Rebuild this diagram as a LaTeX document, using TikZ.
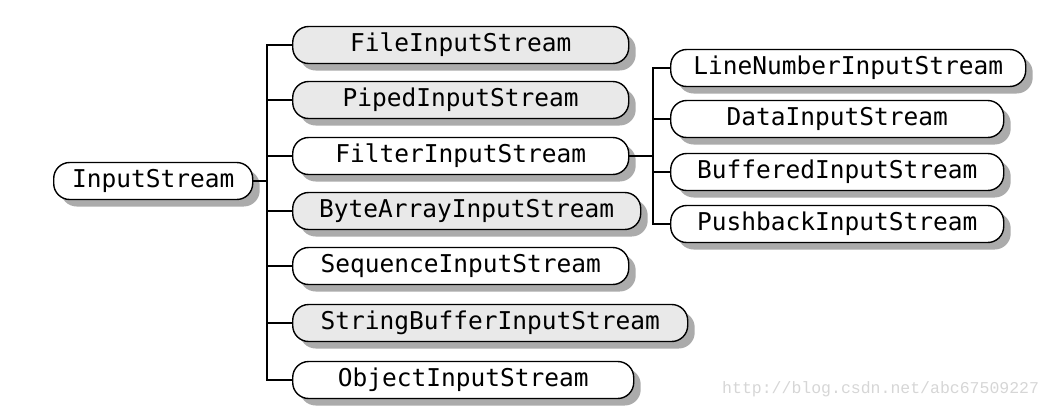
\documentclass[tikz,border=0pt]{standalone}
\usepackage{fontspec}
\newfontfamily\boxfont{DejaVu Sans Mono}
\newfontfamily\markfont{Liberation Mono}
\usetikzlibrary{shadows}
\definecolor{shadowgray}{HTML}{ABABAB}
\definecolor{fillgray}{HTML}{E9E9E9}
\definecolor{markgray}{HTML}{D6D6D6}
\tikzset{
  cls/.style={draw=black, line width=1.4pt, fill=white, rounded corners=16pt,
    minimum height=37pt, inner sep=0pt, anchor=west,
    font=\boxfont\fontsize{24.5}{24.5}\selectfont,
    drop shadow={shadow xshift=7pt, shadow yshift=-7pt, fill=shadowgray, opacity=1}},
  grayfill/.style={fill=fillgray},
  link/.style={draw=black, line width=1.4pt}
}
\begin{document}
\begin{tikzpicture}[x=1pt,y=-1pt]
\useasboundingbox (0,0) rectangle (1054,410);
% root
\node[cls, minimum width=199pt] (root) at (53,181) {InputStream};
% left children
\node[cls, grayfill, minimum width=336pt] (file) at (292,45) {FileInputStream};
\node[cls, grayfill, minimum width=336pt] (piped) at (292,100) {PipedInputStream};
\node[cls, minimum width=336pt] (filter) at (292,156) {FilterInputStream};
\node[cls, grayfill, minimum width=348pt] (bytes) at (292,211) {ByteArrayInputStream};
\node[cls, minimum width=336pt] (seq) at (292,266) {SequenceInputStream};
\node[cls, grayfill, minimum width=395pt] (sbuf) at (292,323) {StringBufferInputStream};
\node[cls, minimum width=341pt] (obj) at (292,380) {ObjectInputStream};
% right children
\node[cls, minimum width=355pt] (line) at (670,68) {LineNumberInputStream};
\node[cls, minimum width=333pt] (data) at (670,119) {DataInputStream};
\node[cls, minimum width=333pt] (buf) at (670,172) {BufferedInputStream};
\node[cls, minimum width=333pt] (push) at (670,224) {PushbackInputStream};
% connectors
\coordinate (t1) at (267,181);
\draw[link] (root.east) -- (t1);
\foreach \c in {file,piped,filter,bytes,seq,sbuf,obj}
  \draw[link] (t1) |- (\c.west);
\coordinate (t2) at (653,156);
\draw[link] (filter.east) -- (t2);
\foreach \c in {line,data,buf,push}
  \draw[link] (t2) |- (\c.west);
% watermark
\node[anchor=west, inner sep=0pt, text=markgray, font=\markfont\fontsize{16.5}{16.5}\selectfont] (mark) at (722,389) {http://blog.csdn.net/abc67509227};
\end{tikzpicture}
\end{document}
